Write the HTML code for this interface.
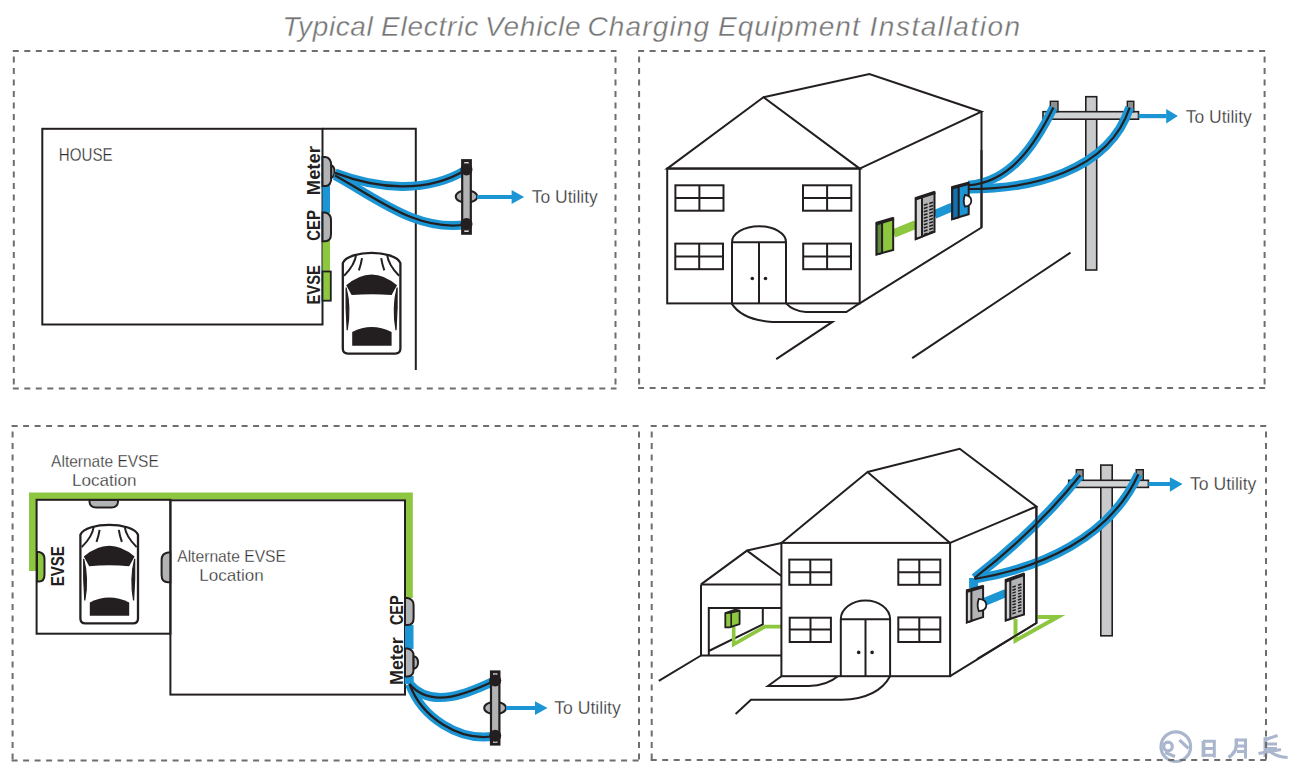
<!DOCTYPE html>
<html><head><meta charset="utf-8"><title>Typical Electric Vehicle Charging Equipment Installation</title>
<style>
html,body{margin:0;padding:0;background:#fff;width:1294px;height:771px;overflow:hidden}
svg{display:block}
text{font-family:"Liberation Sans",sans-serif}
.ln{fill:none;stroke:#231f20;stroke-width:2;stroke-linejoin:miter;stroke-linecap:butt}
.dash{fill:none;stroke:#6e6e6e;stroke-width:2;stroke-dasharray:6 5.5}
.lbl{font-weight:bold;fill:#231f20}
.txt{fill:#2b2b2b;stroke:#fff;stroke-width:0.3}
.blu{fill:none;stroke:#1b95d3;stroke-linecap:butt}
.blk{fill:none;stroke:#231f20;stroke-linecap:butt}
.gry{fill:#b2b3b5;stroke:#231f20;stroke-width:2}
</style></head>
<body>
<svg width="1294" height="771" viewBox="0 0 1294 771">


<!-- title -->
<g font-size="28" font-style="italic" fill="#747474" stroke="#fff" stroke-width="0.35"><text x="282.5" y="35.6" textLength="90.2" lengthAdjust="spacing">Typical</text><text x="381.0" y="35.6" textLength="97.2" lengthAdjust="spacing">Electric</text><text x="485.0" y="35.6" textLength="95.6" lengthAdjust="spacing">Vehicle</text><text x="587.5" y="35.6" textLength="121.5" lengthAdjust="spacing">Charging</text><text x="718.0" y="35.6" textLength="141.7" lengthAdjust="spacing">Equipment</text><text x="869.5" y="35.6" textLength="150.7" lengthAdjust="spacing">Installation</text></g>

<!-- watermark -->
<g fill="none" stroke="#aab6cd" stroke-width="3.2">
  <circle cx="1175.8" cy="746.7" r="14.8"/>
  <circle cx="1168" cy="746.5" r="4.3"/>
  <path d="M1165,752.5 L1175,756.5 M1179.5,740 L1188.4,748.4"/>
  <path d="M1203.5,741 V757" stroke-width="3.8"/>
  <path d="M1203,741.2 H1214.3 V757.5 M1204,748.5 H1213.5 M1204,755.3 H1213.5" stroke-width="3"/>
  <path d="M1236.3,738.5 V746 Q1235.5,753 1228.5,757.5" stroke-width="3.4"/>
  <path d="M1236,740 H1245.5 V758.6 M1237,746 H1245 M1237,751.5 H1245" stroke-width="3"/>
  <path d="M1265.4,737.2 V757" stroke-width="3.8"/>
  <path d="M1265.5,739.5 L1277.6,735.5 M1266,744 H1277 M1266,748.5 H1277 M1258.5,753.5 L1281,749.5 M1270,751.5 Q1277,757 1287.6,757.5" stroke-width="3"/>
</g>
<!-- dashed panels -->
<path class="dash" d="M12.8,51 H616.5 M12.8,388.4 H616.5"/>
<path class="dash" stroke-dashoffset="6" d="M13.8,51 V388.4 M615.5,51 V388.4"/>
<path class="dash" d="M638.1,51 H1265.6 M638.1,388 H1265.6"/>
<path class="dash" stroke-dashoffset="6" d="M639.1,51 V388 M1264.6,51 V388"/>
<path class="dash" d="M11.6,426 H640 M11.6,760.5 H640"/>
<path class="dash" stroke-dashoffset="6" d="M12.6,426 V760.5 M639,426 V760.5"/>
<path class="dash" d="M650.7,426 H1267 M650.7,760 H1267"/>
<path class="dash" stroke-dashoffset="6" d="M651.7,426 V760 M1266,426 V760"/>

<!-- ================= PANEL 1 ================= -->
<g id="p1">
  <rect class="ln" x="42.3" y="128.8" width="280.2" height="195.7"/>
  <path class="ln" d="M322.5,128.8 L415.8,128.8 L415.8,370"/>
  <text class="txt" x="58.8" y="160.8" font-size="18.3" textLength="53.8" lengthAdjust="spacingAndGlyphs">HOUSE</text>

  <!-- conduit on wall -->
  <rect x="322.5" y="186" width="7.5" height="27" fill="#1b95d3"/>
  <rect x="322.5" y="240" width="7.5" height="32" fill="#8dc63f"/>
  <!-- meter -->
  <path class="gry" d="M322.5,157 L325.5,157 Q331.3,158 331.3,166 L331.3,177 Q331.3,186 325.5,186 L322.5,186 Z"/>
  <path class="gry" d="M331.3,165.4 Q334.5,166 334.5,171.5 Q334.5,177.2 331.3,177.7 Z" stroke-width="1.6"/>
  <!-- CEP -->
  <path class="gry" d="M322.5,212.4 L325,212.4 Q331,213.5 331,220 L331,234 Q331,241.2 325,241.2 L322.5,241.2 Z"/>
  <!-- EVSE -->
  <rect x="322.5" y="271.5" width="8.3" height="29.2" fill="#8dc63f" stroke="#231f20" stroke-width="1.8"/>
  <!-- labels -->
  <text class="lbl" transform="translate(319.6,195.2) rotate(-90)" font-size="17.6" textLength="49.1" lengthAdjust="spacingAndGlyphs">Meter</text>
  <text class="lbl" transform="translate(319.6,240.7) rotate(-90)" font-size="17.6" textLength="30.5" lengthAdjust="spacingAndGlyphs">CEP</text>
  <text class="lbl" transform="translate(319.6,304.5) rotate(-90)" font-size="17.6" textLength="39.5" lengthAdjust="spacingAndGlyphs">EVSE</text>
  <!-- car -->
  <g transform="translate(342.6,252.1)">
    <path d="M0.2,11 C3,4 17,0.8 29,0.8 C41,0.8 55,4 57.8,11 L57.8,96.5 Q57.8,101.5 52.8,101.5 L5.2,101.5 Q0.2,101.5 0.2,96.5 Z" fill="#fff" stroke="#231f20" stroke-width="2.3"/>
    <path d="M13.6,2.3 Q12.3,12.9 1.5,23.6 M44.4,2.3 Q45.7,12.9 56.5,23.6" fill="none" stroke="#231f20" stroke-width="2"/>
    <path d="M19.4,6 Q18.5,12 16.3,18.2 M38.6,6 Q39.5,12 41.7,18.2" fill="none" stroke="#231f20" stroke-width="2"/>
    <path d="M3.6,33.2 Q29,11.4 54.4,33.2 L49,43 Q29,41.2 9,43 Z" fill="#231f20"/>
    <path d="M9.6,80 Q28.8,70 49,80 L49,93.7 L9.6,93.7 Z" fill="#231f20"/>
    <path d="M3.5,35.5 Q8.5,56 4.6,78 Q3,56 3.5,35.5 Z M54.5,35.5 Q49.5,56 53.4,78 Q55,56 54.5,35.5 Z" fill="#231f20" stroke="#231f20" stroke-width="1.2"/>
  </g>
  <!-- cables -->
  <path class="blu" stroke-width="9" d="M335.0,172.9 C376.8,188.9 426.8,194.0 466.5,169.5"/>
  <path class="blu" stroke-width="9" d="M335.0,175.5 C375.8,197.6 416.6,232.1 466.5,224.5"/>
  <path class="blk" stroke-width="2.2" d="M335.0,172.9 C376.8,188.9 426.8,194.0 466.5,169.5"/>
  <path class="blk" stroke-width="2.2" d="M335.0,175.5 C375.8,197.6 416.6,232.1 466.5,224.5"/>
  <!-- pole -->
  <ellipse cx="466.5" cy="196.5" rx="10.75" ry="6.3" fill="#b2b3b5" stroke="#231f20" stroke-width="2"/>
  <rect x="462.2" y="160.2" width="8.6" height="73.5" fill="#b2b3b5" stroke="#231f20" stroke-width="2.2"/>
  <rect x="462.2" y="160.2" width="8.6" height="4.5" fill="#231f20"/><rect x="462.2" y="229.2" width="8.6" height="4.5" fill="#231f20"/>
  <rect x="464.3" y="162" width="4.4" height="1.6" fill="#d9d9d9"/><rect x="464.3" y="230.4" width="4.4" height="1.6" fill="#d9d9d9"/>
  <circle cx="466.5" cy="169.4" r="6" fill="#231f20"/>
  <circle cx="466.5" cy="224" r="6" fill="#231f20"/>
  <!-- arrow -->
  <rect x="477" y="195" width="35" height="4" fill="#1b95d3"/>
  <path d="M511.6,190 L524.1,197 L511.6,204 Z" fill="#1b95d3"/>
  <text class="txt" x="531.7" y="203" font-size="17.8" textLength="66.1" lengthAdjust="spacingAndGlyphs">To Utility</text>
</g>

<!-- ================= PANEL 2 ================= -->
<g id="p2">
  <!-- front facade -->
  <path class="ln" d="M667.2,168.6 L763.5,97.2 L859.7,168.6 Z"/>
  <rect class="ln" x="667.2" y="168.6" width="192.5" height="134.8"/>
  <!-- roof & side -->
  <path class="ln" d="M763.5,97.2 L869.4,74 L981.5,111.7 L859.7,168.6"/>
  <path class="ln" d="M981.5,111.7 L981.5,227.5 L859.7,303.4"/>
  <!-- windows -->
  <g class="ln">
    <rect x="675.4" y="185.3" width="48.1" height="25.4"/><path d="M675.4,198 H723.5 M699.4,185.3 V210.7"/>
    <rect x="803" y="185.3" width="48.3" height="25.4"/><path d="M803,198 H851.3 M827.1,185.3 V210.7"/>
    <rect x="675.3" y="243.6" width="47.7" height="25.6"/><path d="M675.3,256.5 H723 M699.2,243.6 V269.2"/>
    <rect x="803.2" y="243.6" width="47.8" height="25.6"/><path d="M803.2,256.5 H851 M827.1,243.6 V269.2"/>
  </g>
  <!-- door -->
  <path class="ln" d="M732,303.4 V242.2 A27,16 0 0 1 786,242.2 V303.4 M732,242.2 H786 M759,242.2 V303.4"/>
  <circle cx="752.3" cy="278.5" r="1.8" fill="#231f20"/>
  <circle cx="765.5" cy="278.5" r="1.8" fill="#231f20"/>
  <!-- walkways -->
  <path class="ln" d="M731.6,303.4 Q742,320 772.2,321.9 L832.4,321.9 L776.2,359.2"/>
  <path class="ln" d="M786.1,303.4 Q793,311 805.8,312 L846.3,312 L859.5,303.4"/>
  <!-- road lines -->
  <path class="ln" d="M912.2,358.1 L1070.5,252.6"/>
  <!-- pole -->
  <rect x="1085.8" y="96.7" width="10.9" height="173.3" fill="#c9cacc" stroke="#231f20" stroke-width="1.6"/>
  <rect x="1043" y="111.7" width="95.5" height="7.5" fill="#d1d2d4" stroke="#231f20" stroke-width="1.6"/>
  <rect x="1050.3" y="101.3" width="7.7" height="10.4" fill="#8d8e90" stroke="#231f20" stroke-width="1.4"/>
  <rect x="1127.3" y="101.3" width="6.5" height="10.4" fill="#8d8e90" stroke="#231f20" stroke-width="1.4"/>
  <!-- cables -->
  <path class="blu" stroke-width="9" d="M968.2,185.3 C1011.6,182.3 1036.2,142.4 1053.4,107.5"/>
  <path class="blu" stroke-width="9" d="M968.2,189.0 C1028.9,189.1 1108.0,172.9 1129.7,107.5"/>
  <path class="blk" stroke-width="2.2" d="M968.2,185.3 C1011.6,182.3 1036.2,142.4 1053.4,107.5"/>
  <path class="blk" stroke-width="2.2" d="M968.2,189.0 C1028.9,189.1 1108.0,172.9 1129.7,107.5"/>
  <!-- side components -->
  <path d="M893.7,233.5 L915.8,224.5" stroke="#8dc63f" stroke-width="8.5" fill="none"/>
  <path d="M934.5,214.5 L952.2,207" stroke="#1b95d3" stroke-width="8.5" fill="none"/>
  <!-- EVSE box -->
  <path d="M876.6,223.5 L893.2,218.6 L893.2,250 L876.6,254.4 Z" fill="#8dc63f" stroke="#231f20" stroke-width="2"/>
  <path d="M876.6,223.5 L882.1,221.9 L882.1,252.9 L876.6,254.4 Z" fill="#5d8a3c" stroke="#231f20" stroke-width="2"/>
  <path d="M876,223.7 L893.8,218.4" stroke="#231f20" stroke-width="3.5"/>
  <!-- CEP panel -->
  <path d="M915.8,198.7 L934.5,192.6 L934.5,231.8 L915.8,239 Z" fill="#b2b3b5" stroke="#231f20" stroke-width="2"/>
  <path d="M915.8,198.7 L922,196.7 L922,236.6 L915.8,239 Z" fill="#d4d5d6" stroke="#231f20" stroke-width="2"/>
  <g id="slots2" stroke="#231f20" stroke-width="1.6"><path d="M923.8,205.2 l3.8,-1.24 M929.2,203.4 l3.8,-1.24 M923.8,208.5 l3.8,-1.24 M929.2,206.7 l3.8,-1.24 M923.8,211.7 l3.8,-1.24 M929.2,210.0 l3.8,-1.24 M923.8,215.0 l3.8,-1.24 M929.2,213.2 l3.8,-1.24 M923.8,218.2 l3.8,-1.24 M929.2,216.5 l3.8,-1.24 M923.8,221.5 l3.8,-1.24 M929.2,219.7 l3.8,-1.24 M923.8,224.8 l3.8,-1.24 M929.2,223.0 l3.8,-1.24 M923.8,228.0 l3.8,-1.24 M929.2,226.3 l3.8,-1.24 M923.8,231.3 l3.8,-1.24 M929.2,229.5 l3.8,-1.24 M923.8,234.5 l3.8,-1.24 M929.2,232.8 l3.8,-1.24"/></g>
  <path d="M915.2,198.9 L935.1,192.4" stroke="#231f20" stroke-width="3.5"/>
  <!-- meter box -->
  <path d="M952.2,187.7 L968.7,183.3 L968.7,214.2 L952.2,219.1 Z" fill="#1b95d3" stroke="#231f20" stroke-width="2"/>
  <path d="M952.2,187.7 L958.7,186 L958.7,217.2 L952.2,219.1 Z" fill="#1570ae" stroke="#231f20" stroke-width="2"/>
  <path d="M951.6,187.9 L969.3,183.1" stroke="#231f20" stroke-width="3.5"/>
  <path d="M965,194.8 Q971.3,195.8 971.3,200.7 Q971.3,205.8 965,206.6 Q962.6,200.7 965,194.8 Z" fill="#fff" stroke="#231f20" stroke-width="1.8"/>
  <path class="ln" d="M981.5,150 V227.5" stroke-width="1.8"/>
  <!-- arrow -->
  <rect x="1138.5" y="114" width="28" height="4.2" fill="#1b95d3"/>
  <path d="M1166.2,108.9 L1177.9,116.1 L1166.2,123.4 Z" fill="#1b95d3"/>
  <text class="txt" x="1185.7" y="122.6" font-size="17.8" textLength="66.1" lengthAdjust="spacingAndGlyphs">To Utility</text>
</g>

<!-- ================= PANEL 3 ================= -->
<g id="p3">
  <!-- green conduit -->
  <path d="M32.5,571 V496 H409.3 V598" fill="none" stroke="#8dc63f" stroke-width="7"/>
  <rect class="ln" x="36.6" y="499.8" width="133.8" height="133.9"/>
  <rect class="ln" x="170.4" y="500.3" width="234.6" height="194.3"/>
  <!-- blue conduit -->
  <rect x="405" y="625" width="8.5" height="24" fill="#1b95d3"/>
  <!-- alt EVSE (top of garage) -->
  <path class="gry" d="M89.5,500 V502 Q90,507.4 96,507.4 H111.5 Q117.5,507.4 118,502 V500 Z"/>
  <!-- EVSE (left garage wall) -->
  <path d="M37,552 H39 Q44.5,553 44.5,559 V574.5 Q44.5,581.5 39,581.5 H37 Z" fill="#8dc63f" stroke="#231f20" stroke-width="2"/>
  <!-- alt EVSE (house left wall) -->
  <path class="gry" d="M170.3,552.6 H168 Q161.6,553.5 161.6,560 V575 Q161.6,582.2 168,582.2 H170.3 Z"/>
  <!-- CEP -->
  <path class="gry" d="M405,597.9 H407.5 Q413.6,599 413.6,605 V618 Q413.6,625.1 407.5,625.1 H405 Z"/>
  <!-- cables -->
  <path class="blu" stroke-width="9" d="M409.2,676 V684"/>
  <path class="blu" stroke-width="9" d="M409.5,684.0 C431.4,710.2 470.3,692.4 495.0,680.6"/>
  <path class="blu" stroke-width="9" d="M409.5,684.0 C421.6,717.2 459.1,742.2 495.0,736.0"/>
  <path class="blk" stroke-width="2.2" d="M409.5,684.0 C431.4,710.2 470.3,692.4 495.0,680.6"/>
  <path class="blk" stroke-width="2.2" d="M409.5,684.0 C421.6,717.2 459.1,742.2 495.0,736.0"/>
  <!-- meter -->
  <path class="gry" d="M405,648.5 H407.5 Q413.6,649.5 413.6,656 V669 Q413.6,676.5 407.5,676.5 H405 Z"/>
  <path class="gry" d="M413.6,656.3 Q418,657 418,662.5 Q418,668 413.6,668.7 Z" stroke-width="1.6"/>
  <!-- labels -->
  <text class="lbl" transform="translate(64,586.3) rotate(-90)" font-size="17.6" textLength="40.1" lengthAdjust="spacingAndGlyphs">EVSE</text>
  <text class="lbl" transform="translate(402.7,625.1) rotate(-90)" font-size="17.6" textLength="29.8" lengthAdjust="spacingAndGlyphs">CEP</text>
  <text class="lbl" transform="translate(402.7,685) rotate(-90)" font-size="17.6" textLength="47.7" lengthAdjust="spacingAndGlyphs">Meter</text>
  <text class="txt" x="51.1" y="467.4" font-size="17" textLength="107.7" lengthAdjust="spacingAndGlyphs">Alternate EVSE</text>
  <text class="txt" x="71.9" y="486" font-size="17" textLength="64.7" lengthAdjust="spacingAndGlyphs">Location</text>
  <text class="txt" x="177.2" y="561.9" font-size="17" textLength="108.8" lengthAdjust="spacingAndGlyphs">Alternate EVSE</text>
  <text class="txt" x="199.3" y="581" font-size="17" textLength="64.4" lengthAdjust="spacingAndGlyphs">Location</text>
  <!-- car -->
  <g transform="translate(80.2,524) scale(1,0.98)">
    <path d="M0.2,11 C3,4 17,0.8 29,0.8 C41,0.8 55,4 57.8,11 L57.8,96.5 Q57.8,101.5 52.8,101.5 L5.2,101.5 Q0.2,101.5 0.2,96.5 Z" fill="#fff" stroke="#231f20" stroke-width="2.3"/>
    <path d="M13.6,2.3 Q12.3,12.9 1.5,23.6 M44.4,2.3 Q45.7,12.9 56.5,23.6" fill="none" stroke="#231f20" stroke-width="2"/>
    <path d="M19.4,6 Q18.5,12 16.3,18.2 M38.6,6 Q39.5,12 41.7,18.2" fill="none" stroke="#231f20" stroke-width="2"/>
    <path d="M3.6,33.2 Q29,11.4 54.4,33.2 L49,43 Q29,41.2 9,43 Z" fill="#231f20"/>
    <path d="M9.6,80 Q28.8,70 49,80 L49,93.7 L9.6,93.7 Z" fill="#231f20"/>
    <path d="M3.5,35.5 Q8.5,56 4.6,78 Q3,56 3.5,35.5 Z M54.5,35.5 Q49.5,56 53.4,78 Q55,56 54.5,35.5 Z" fill="#231f20" stroke="#231f20" stroke-width="1.2"/>
  </g>
  <!-- pole -->
  <ellipse cx="495.1" cy="708" rx="10.9" ry="6.2" fill="#b2b3b5" stroke="#231f20" stroke-width="2"/>
  <rect x="491" y="671.5" width="8.4" height="73" fill="#b2b3b5" stroke="#231f20" stroke-width="2.2"/>
  <rect x="491" y="671.5" width="8.4" height="4.5" fill="#231f20"/><rect x="491" y="740" width="8.4" height="4.5" fill="#231f20"/>
  <rect x="493" y="673.3" width="4.4" height="1.6" fill="#d9d9d9"/><rect x="493" y="741.2" width="4.4" height="1.6" fill="#d9d9d9"/>
  <circle cx="495.2" cy="680.6" r="6" fill="#231f20"/>
  <circle cx="495.2" cy="735.8" r="6" fill="#231f20"/>
  <!-- arrow -->
  <rect x="506" y="706" width="30" height="4" fill="#1b95d3"/>
  <path d="M535,701.2 L547.5,708 L535,715.1 Z" fill="#1b95d3"/>
  <text class="txt" x="554.3" y="714.2" font-size="17.8" textLength="66.5" lengthAdjust="spacingAndGlyphs">To Utility</text>
</g>

<!-- ================= PANEL 4 ================= -->
<g id="p4">
  <!-- garage -->
  <path class="ln" d="M701,584.4 L747,550.6 L781.4,576 M747,550.6 L781.4,542.9"/>
  <path class="ln" d="M701,584.4 H781.4 M701,584.4 V655.5 H781.4"/>
  <path class="ln" d="M708.8,655.5 V608.1 H781.4 M762.8,608.1 V624.5 L708.8,651"/>
  <path class="ln" d="M701,655.5 L658.8,680.9"/>
  <!-- garage EVSE -->
  <path d="M733.7,627 V644.3 L764.9,626.6 H781.4" fill="none" stroke="#8dc63f" stroke-width="3.6"/>
  <path d="M725.3,613.1 L735.4,609.7 L739.6,610.6 V624.1 L729.5,627.4 H725.3 Z" fill="#8dc63f" stroke="#231f20" stroke-width="1.8" stroke-linejoin="round"/>
  <path d="M725.3,613.1 L731.2,612.6 L739.6,610.6 M731.2,612.6 V627.2" fill="none" stroke="#231f20" stroke-width="1.6"/>
  <!-- house front -->
  <path class="ln" d="M781.4,542.9 L867.5,472 L950.1,542.9"/>
  <rect class="ln" x="781.4" y="542.9" width="168.7" height="133.3"/>
  <path class="ln" d="M867.5,472 L959.7,448.8 L1036.4,506.5 L950.1,542.9 M1036.4,506.5 V623 L950.1,676.2"/>
  <g class="ln">
    <rect x="789.3" y="559.6" width="41.9" height="25.2"/><path d="M789.3,572.2 H831.2 M810.3,559.6 V584.8"/>
    <rect x="789.7" y="617.7" width="41.2" height="24.3"/><path d="M789.7,629.6 H830.9 M810.5,617.7 V642"/>
    <rect x="898.3" y="559.6" width="42" height="25.2"/><path d="M898.3,572.2 H940.3 M919.3,559.6 V584.8"/>
    <rect x="898.3" y="617.4" width="42" height="24.6"/><path d="M898.3,629.6 H940.3 M919.3,617.4 V642"/>
  </g>
  <path class="ln" d="M840.8,676.2 V619.2 A24.65,18.6 0 0 1 890.1,619.2 V676.2 M840.8,619.2 H890.1 M865.5,619.2 V676.2"/>
  <circle cx="858.7" cy="652.4" r="1.8" fill="#231f20"/>
  <circle cx="872.1" cy="652.4" r="1.8" fill="#231f20"/>
  <path class="ln" d="M781.4,676.2 L768,685.9 H808.9 Q827,685.5 837.8,676.2"/>
  <path class="ln" d="M890.1,676.2 Q878,698.5 842,699.8 H751 L735.6,713.9"/>
  <!-- pole -->
  <rect x="1100.8" y="465.1" width="11.4" height="170.7" fill="#c9cacc" stroke="#231f20" stroke-width="1.6"/>
  <rect x="1068.7" y="480.3" width="79.7" height="7.1" fill="#d1d2d4" stroke="#231f20" stroke-width="1.6"/>
  <rect x="1076.3" y="469.7" width="6.8" height="10.6" fill="#8d8e90" stroke="#231f20" stroke-width="1.4"/>
  <rect x="1136.2" y="469.7" width="7.1" height="10.6" fill="#8d8e90" stroke="#231f20" stroke-width="1.4"/>
  <!-- cables -->
  <path class="blu" stroke-width="9" d="M973.6,588 V578"/>
  <path class="blu" stroke-width="9" d="M974.5,578.0 C1013.3,547.8 1049.6,513.8 1080.3,475.3"/>
  <path class="blu" stroke-width="9" d="M974.5,579.0 C1039.8,568.3 1109.8,538.1 1138.4,474.2"/>
  <path class="blk" stroke-width="2.2" d="M974.5,578.0 C1013.3,547.8 1049.6,513.8 1080.3,475.3"/>
  <path class="blk" stroke-width="2.2" d="M974.5,579.0 C1039.8,568.3 1109.8,538.1 1138.4,474.2"/>
  <!-- components -->
  <path d="M983,602.5 L1006,593" stroke="#1b95d3" stroke-width="8" fill="none"/>
  <path d="M1015.5,619 V640.5 L1057.7,617.1 H1037" fill="none" stroke="#8dc63f" stroke-width="4"/>
  <path class="ln" d="M1036.4,506.5 V623 L977,659"/>
  <!-- meter -->
  <path d="M966.9,591 L983.1,586.6 V617.1 L966.9,622.3 Z" fill="#b2b3b5" stroke="#231f20" stroke-width="2"/>
  <path d="M966.9,591 L971.4,589.8 V620.9 L966.9,622.3 Z" fill="#d4d5d6" stroke="#231f20" stroke-width="2"/>
  <path d="M966.3,591.2 L983.7,586.4" stroke="#231f20" stroke-width="3.5"/>
  <path d="M978.8,598.9 Q986.3,599.5 986.3,605 Q986.3,610.7 978.8,611.2 Q976.5,605 978.8,598.9 Z" fill="#fff" stroke="#231f20" stroke-width="1.8"/>
  <!-- CEP -->
  <path d="M1005.8,580.8 L1024,574.3 V614.5 L1005.8,620.3 Z" fill="#b2b3b5" stroke="#231f20" stroke-width="2"/>
  <path d="M1005.8,580.8 L1010.3,579.2 V618.9 L1005.8,620.3 Z" fill="#d4d5d6" stroke="#231f20" stroke-width="2"/>
  <path d="M1005.2,581 L1024.6,574.1" stroke="#231f20" stroke-width="3.5"/>
  <path stroke="#231f20" stroke-width="1.5" d="M1012.4,587.2 l3.4,-1.21 M1018.0,585.2 l3.4,-1.21 M1012.4,590.2 l3.4,-1.21 M1018.0,588.2 l3.4,-1.21 M1012.4,593.1 l3.4,-1.21 M1018.0,591.1 l3.4,-1.21 M1012.4,596.1 l3.4,-1.21 M1018.0,594.1 l3.4,-1.21 M1012.4,599.0 l3.4,-1.21 M1018.0,597.0 l3.4,-1.21 M1012.4,602.0 l3.4,-1.21 M1018.0,600.0 l3.4,-1.21 M1012.4,604.9 l3.4,-1.21 M1018.0,602.9 l3.4,-1.21 M1012.4,607.9 l3.4,-1.21 M1018.0,605.9 l3.4,-1.21 M1012.4,610.8 l3.4,-1.21 M1018.0,608.8 l3.4,-1.21 M1012.4,613.8 l3.4,-1.21 M1018.0,611.8 l3.4,-1.21"/>
  <!-- arrow -->
  <rect x="1148.4" y="482" width="22" height="4" fill="#1b95d3"/>
  <path d="M1169.9,477.3 L1182.5,484 L1169.9,491.7 Z" fill="#1b95d3"/>
  <text class="txt" x="1190" y="490.4" font-size="17.8" textLength="66.4" lengthAdjust="spacingAndGlyphs">To Utility</text>
</g>



</svg>
</body></html>
